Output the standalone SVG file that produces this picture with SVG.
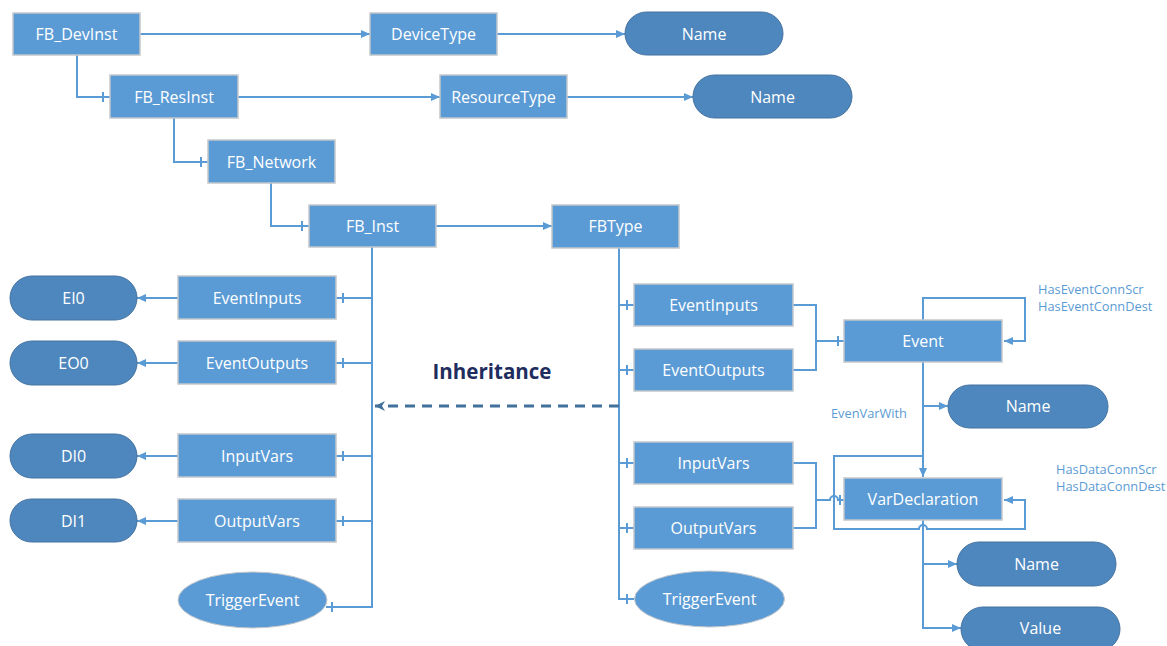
<svg xmlns="http://www.w3.org/2000/svg" width="1167" height="646" viewBox="0 0 1167 646">
<style>
.box{fill:#5b9bd5;stroke:#c3c7cc;stroke-width:1.5}
.pill{fill:#4e87bd;stroke:#4472a0;stroke-width:1}
.ell{fill:#5b9bd5;stroke:#c3c7cc;stroke-width:1}
.t{font-family:"Open Sans","Liberation Sans",sans-serif;font-size:16px;fill:#ffffff;text-anchor:middle;dominant-baseline:central}
.c{fill:none;stroke:#5b9bd5;stroke-width:2}
.lbl{font-family:"Open Sans","Liberation Sans",sans-serif;font-size:12.8px;fill:#5b9bd5}
</style>
<defs>
<marker id="arr" markerWidth="10" markerHeight="10" refX="9" refY="5" orient="auto" markerUnits="userSpaceOnUse"><path d="M0,1 L9,5 L0,9 Z" fill="#5b9bd5"/></marker>
<marker id="arrd" markerWidth="12" markerHeight="12" refX="10" refY="6" orient="auto" markerUnits="userSpaceOnUse"><path d="M0,1 L10,6 L0,11 L3,6 Z" fill="#41719c"/></marker>
</defs>
<rect width="1167" height="646" fill="#ffffff"/>
<g id="connectors">
<path class="c" d="M140,34 H370" marker-end="url(#arr)"/>
<path class="c" d="M497,34 H625" marker-end="url(#arr)"/>
<path class="c" d="M77,55 V97 H110 M103,92 V102"/>
<path class="c" d="M238,97 H440" marker-end="url(#arr)"/>
<path class="c" d="M567,97 H693" marker-end="url(#arr)"/>
<path class="c" d="M174,118 V162 H208 M201,157 V167"/>
<path class="c" d="M271,183 V226 H309 M302,221 V231"/>
<path class="c" d="M436,226 H552" marker-end="url(#arr)"/>
<path class="c" d="M372,247 V607 H326 M332,602 V612"/>
<path class="c" d="M372,298 H336 M343,293 V303"/>
<path class="c" d="M372,363 H336 M343,358 V368"/>
<path class="c" d="M372,456 H336 M343,451 V461"/>
<path class="c" d="M372,521 H336 M343,516 V526"/>
<path class="c" d="M178,298 H137" marker-end="url(#arr)"/>
<path class="c" d="M178,363 H137" marker-end="url(#arr)"/>
<path class="c" d="M178,456 H137" marker-end="url(#arr)"/>
<path class="c" d="M178,521 H137" marker-end="url(#arr)"/>
<path class="c" d="M619,248 V599 H634 M627,594 V604"/>
<path class="c" d="M619,305 H634 M627,300 V310"/>
<path class="c" d="M619,370 H634 M627,365 V375"/>
<path class="c" d="M619,463 H634 M627,458 V468"/>
<path class="c" d="M619,528 H634 M627,523 V533"/>
<path d="M619,406 H375" fill="none" stroke="#41719c" stroke-width="3" stroke-dasharray="10,7" marker-end="url(#arrd)"/>
<path class="c" d="M793,305 H816 V370 H793 M816,341 H844 M838,336 V346"/>
<path class="c" d="M923,320 V298 H1025 V341 H1004" marker-end="url(#arr)"/>
<path class="c" d="M923,362 V477" marker-end="url(#arr)"/>
<path class="c" d="M923,406 H948" marker-end="url(#arr)"/>
<path class="c" d="M793,463 H816 V528 H793 M816,500 H830 A4,4 0 0 1 838,500 H844 M840,495 V505"/>
<path class="c" d="M923,456 H834 V529 H919 A4,4 0 0 1 927,529 H1025 V500 H1004" marker-end="url(#arr)"/>
<path class="c" d="M923,520 V628 H961" marker-end="url(#arr)"/>
<path class="c" d="M923,564 H957" marker-end="url(#arr)"/>
</g>
<g id="FB_DevInst"><rect class="box" x="13" y="13" width="127" height="42"/><text class="t" x="76.5" y="34">FB_DevInst</text></g>
<g id="DeviceType"><rect class="box" x="370" y="13" width="127" height="42"/><text class="t" x="433.5" y="34">DeviceType</text></g>
<g id="Name1"><rect class="pill" x="625" y="12" width="158" height="43" rx="21.5"/><text class="t" x="704" y="34">Name</text></g>
<g id="FB_ResInst"><rect class="box" x="110" y="75" width="128" height="43"/><text class="t" x="174" y="97">FB_ResInst</text></g>
<g id="ResourceType"><rect class="box" x="440" y="75" width="127" height="43"/><text class="t" x="503.5" y="97">ResourceType</text></g>
<g id="Name2"><rect class="pill" x="693" y="75" width="159" height="43" rx="21.5"/><text class="t" x="772.5" y="97">Name</text></g>
<g id="FB_Network"><rect class="box" x="208" y="140" width="127" height="43"/><text class="t" x="271.5" y="162">FB_Network</text></g>
<g id="FB_Inst"><rect class="box" x="309" y="205" width="127" height="42"/><text class="t" x="372.5" y="226">FB_Inst</text></g>
<g id="FBType"><rect class="box" x="552" y="205" width="127" height="43"/><text class="t" x="615.5" y="226">FBType</text></g>
<g id="L_EventInputs"><rect class="box" x="178" y="276" width="158" height="43"/><text class="t" x="257" y="298">EventInputs</text></g>
<g id="L_EventOutputs"><rect class="box" x="178" y="341" width="158" height="43"/><text class="t" x="257" y="363">EventOutputs</text></g>
<g id="L_InputVars"><rect class="box" x="178" y="434" width="158" height="43"/><text class="t" x="257" y="456">InputVars</text></g>
<g id="L_OutputVars"><rect class="box" x="178" y="499" width="158" height="43"/><text class="t" x="257" y="521">OutputVars</text></g>
<g id="L_TriggerEvent"><ellipse class="ell" cx="252.5" cy="600" rx="74.5" ry="28"/><text class="t" x="252.5" y="600">TriggerEvent</text></g>
<g id="EI0"><rect class="pill" x="10" y="276" width="127" height="44" rx="22"/><text class="t" x="73.5" y="298">EI0</text></g>
<g id="EO0"><rect class="pill" x="10" y="341" width="127" height="44" rx="22"/><text class="t" x="73.5" y="363">EO0</text></g>
<g id="DI0"><rect class="pill" x="10" y="434" width="127" height="44" rx="22"/><text class="t" x="73.5" y="456">DI0</text></g>
<g id="DI1"><rect class="pill" x="10" y="499" width="127" height="43" rx="21.5"/><text class="t" x="73.5" y="521">DI1</text></g>
<g id="Inheritance"><text x="492" y="371" font-family="'Open Sans','Liberation Sans',sans-serif" font-size="20.5" font-weight="bold" fill="#1f2d5e" text-anchor="middle" dominant-baseline="central">Inheritance</text></g>
<g id="R_EventInputs"><rect class="box" x="634" y="284" width="159" height="42"/><text class="t" x="713.5" y="305">EventInputs</text></g>
<g id="R_EventOutputs"><rect class="box" x="634" y="349" width="159" height="42"/><text class="t" x="713.5" y="370">EventOutputs</text></g>
<g id="R_InputVars"><rect class="box" x="634" y="442" width="159" height="42"/><text class="t" x="713.5" y="463">InputVars</text></g>
<g id="R_OutputVars"><rect class="box" x="634" y="507" width="159" height="42"/><text class="t" x="713.5" y="528">OutputVars</text></g>
<g id="R_TriggerEvent"><ellipse class="ell" cx="709.5" cy="599" rx="75" ry="28"/><text class="t" x="709.5" y="599">TriggerEvent</text></g>
<g id="Event"><rect class="box" x="844" y="320" width="158" height="42"/><text class="t" x="923" y="341">Event</text></g>
<g id="Name3"><rect class="pill" x="948" y="385" width="160" height="43" rx="21.5"/><text class="t" x="1028" y="406">Name</text></g>
<g id="VarDeclaration"><rect class="box" x="844" y="478" width="158" height="42"/><text class="t" x="923" y="499">VarDeclaration</text></g>
<g id="Name4"><rect class="pill" x="957" y="542" width="159" height="44" rx="22"/><text class="t" x="1036.5" y="564">Name</text></g>
<g id="Value"><rect class="pill" x="961" y="607" width="159" height="44" rx="22"/><text class="t" x="1040.5" y="628">Value</text></g>
<g id="labels">
<text class="lbl" x="1038" y="294">HasEventConnScr</text>
<text class="lbl" x="1038" y="311">HasEventConnDest</text>
<text class="lbl" x="831" y="418">EvenVarWith</text>
<text class="lbl" x="1056" y="474">HasDataConnScr</text>
<text class="lbl" x="1056" y="491">HasDataConnDest</text>
</g>
</svg>
